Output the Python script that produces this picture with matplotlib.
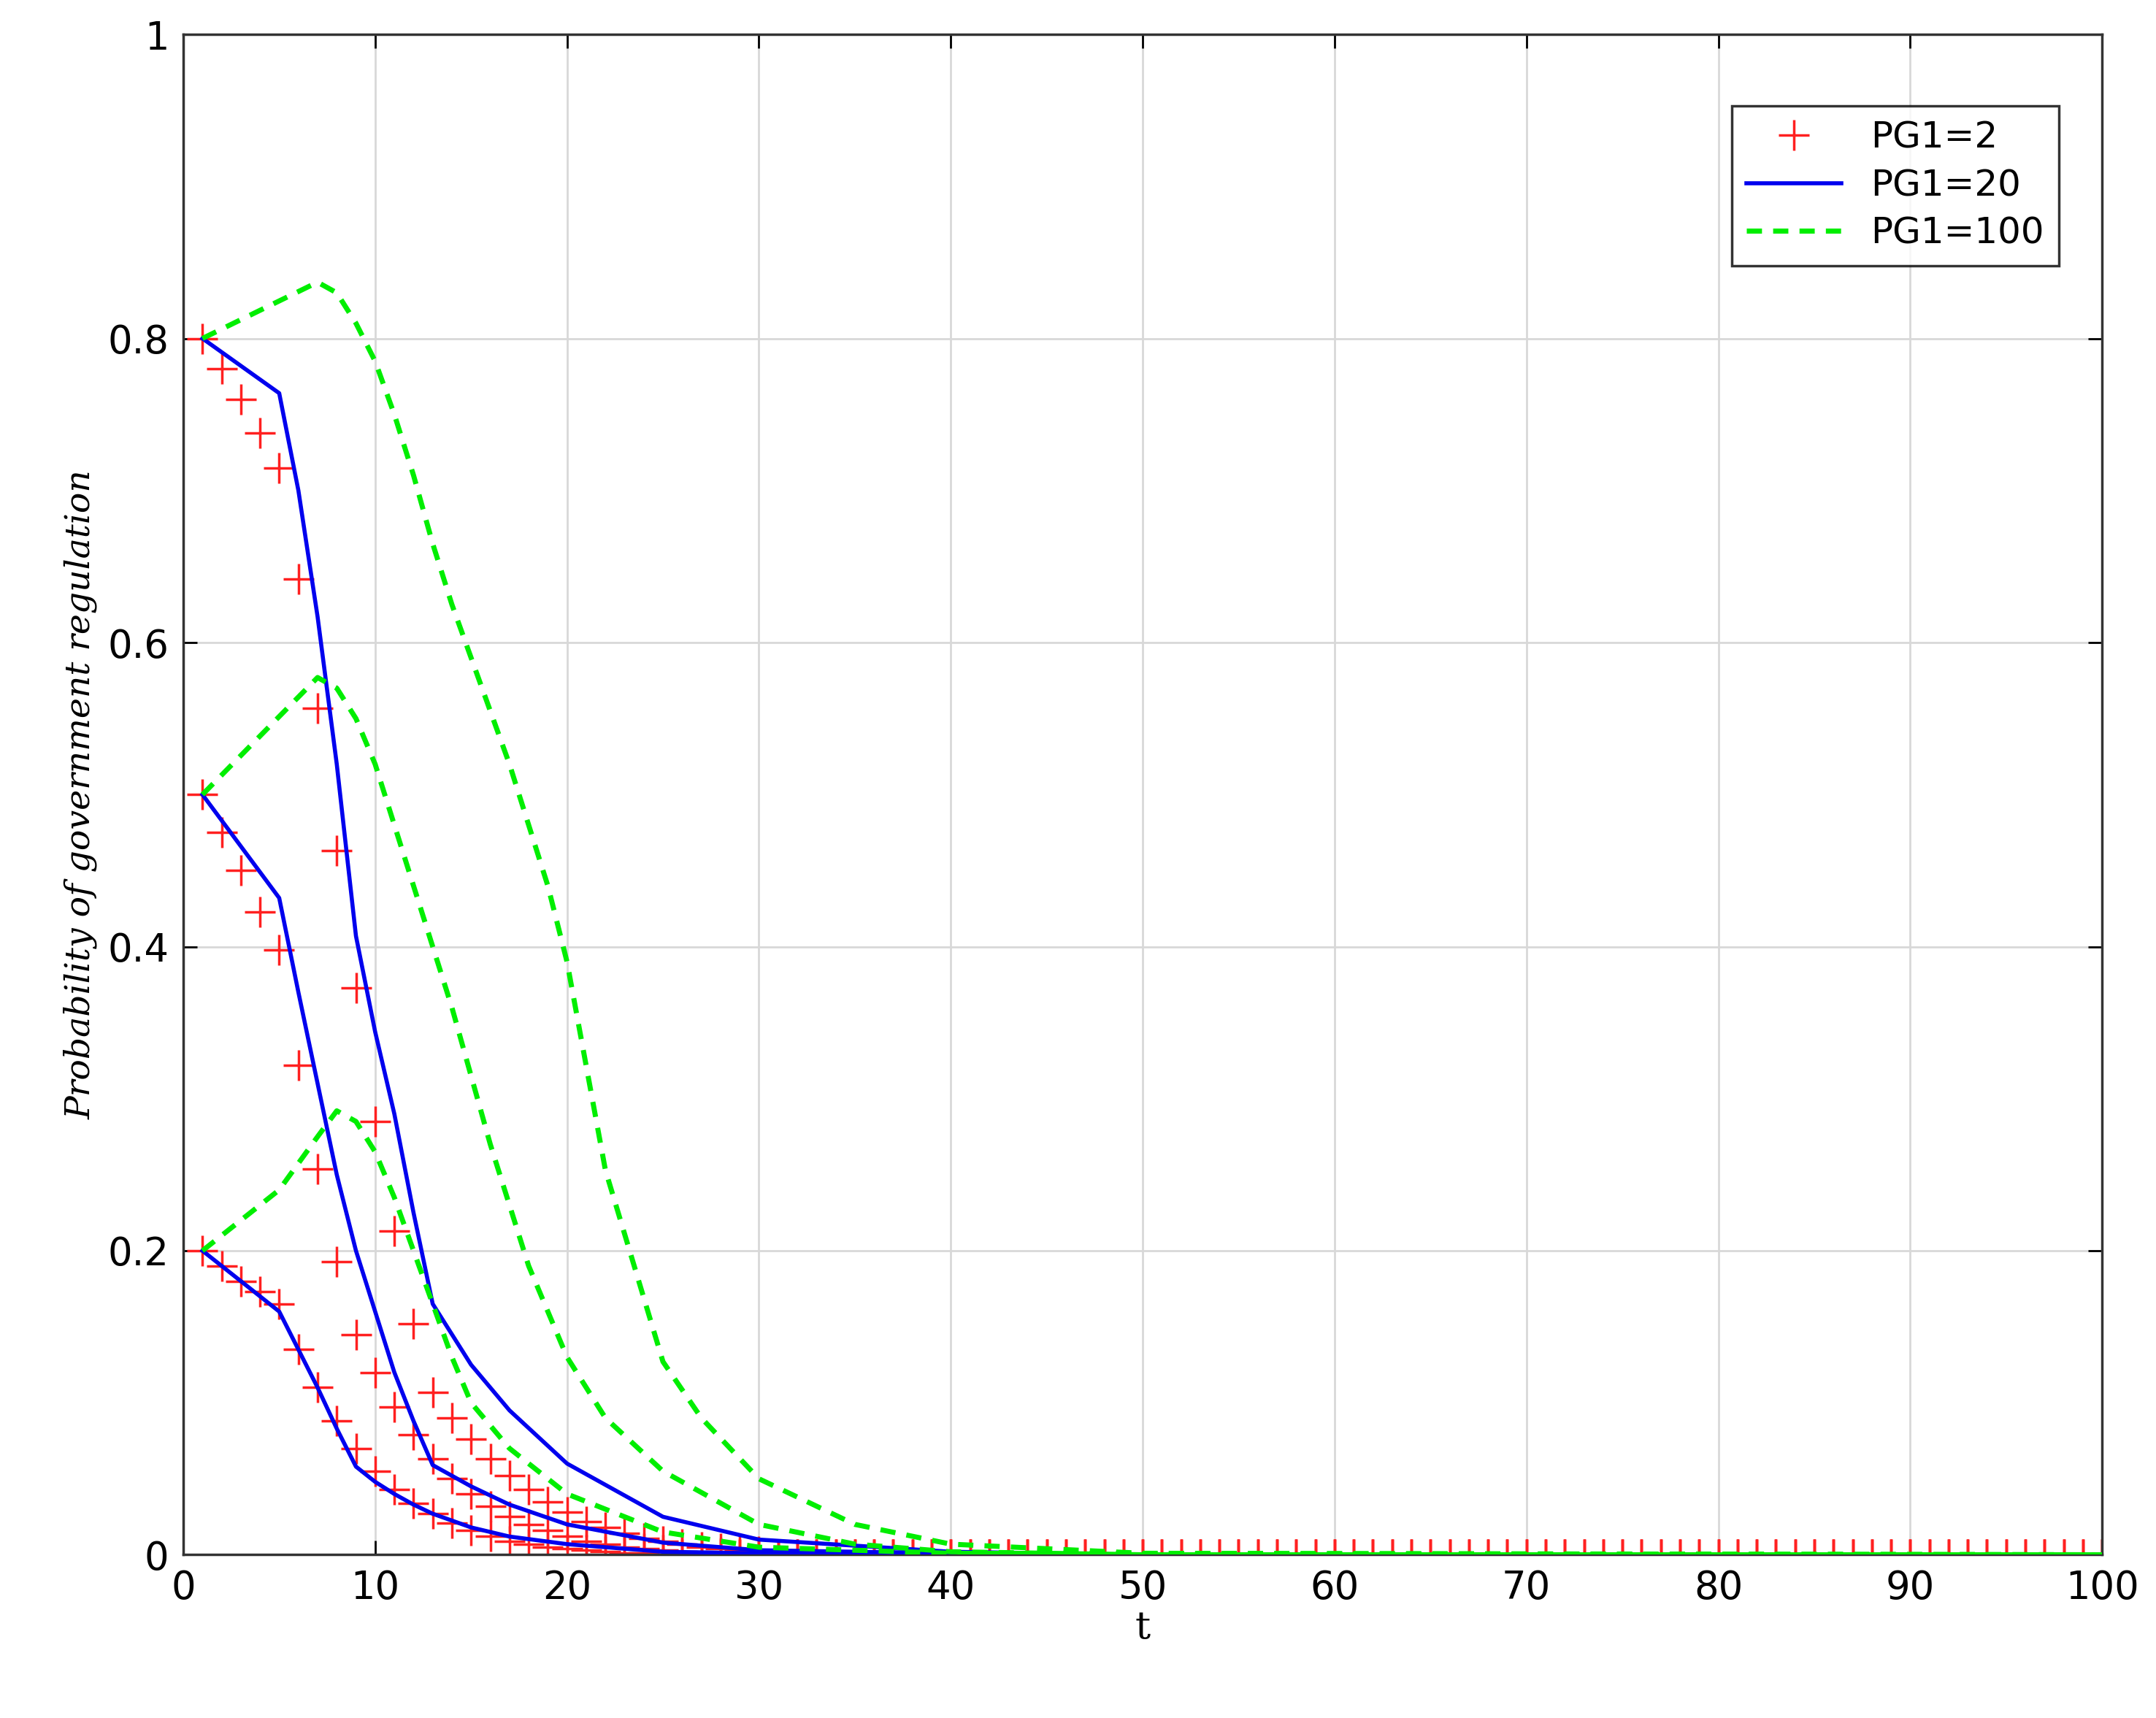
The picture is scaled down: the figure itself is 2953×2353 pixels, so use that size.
import matplotlib
matplotlib.use("Agg")
import matplotlib.pyplot as plt
import numpy as np

t_red = list(range(1, 101))
red_a = [0.8, 0.78, 0.76, 0.738, 0.715, 0.642, 0.557, 0.463, 0.373, 0.285, 0.213, 0.152, 0.107, 0.09, 0.076,
         0.063, 0.052, 0.043, 0.035, 0.028, 0.022, 0.018, 0.014, 0.011, 0.009, 0.007, 0.005, 0.004, 0.003, 0.002] + [0.0] * 70
red_b = [0.5, 0.475, 0.45, 0.423, 0.398, 0.322, 0.254, 0.193, 0.145, 0.12, 0.097, 0.079, 0.063, 0.05, 0.04,
         0.032, 0.025, 0.02, 0.016, 0.012, 0.009, 0.007, 0.005, 0.004, 0.003, 0.002, 0.001, 0.001, 0.0, 0.0] + [0.0] * 70
red_c = [0.2, 0.19, 0.18, 0.173, 0.165, 0.135, 0.11, 0.088, 0.07, 0.055, 0.043, 0.034, 0.027, 0.021, 0.016,
         0.012, 0.009, 0.007, 0.005, 0.004, 0.003, 0.002, 0.001, 0.001, 0.0, 0.0, 0.0, 0.0, 0.0, 0.0] + [0.0] * 70

t_blue = [1, 5, 6, 7, 8, 9, 10, 11, 12, 13, 15, 17, 20, 25, 30, 40, 50, 100]
blue_a = [0.8, 0.764, 0.70, 0.617, 0.52, 0.407, 0.344, 0.29, 0.225, 0.165, 0.125, 0.095, 0.06, 0.025, 0.01, 0.002, 0.0, 0.0]
blue_b = [0.5, 0.432, 0.37, 0.31, 0.25, 0.2, 0.16, 0.12, 0.088, 0.059, 0.045, 0.033, 0.02, 0.008, 0.003, 0.001, 0.0, 0.0]
blue_c = [0.2, 0.16, 0.135, 0.11, 0.083, 0.058, 0.048, 0.04, 0.033, 0.027, 0.018, 0.012, 0.007, 0.002, 0.001, 0.0, 0.0, 0.0]

t_g1 = [1, 7, 8, 9, 10, 11, 12, 13, 14, 15, 16, 17, 18, 19, 20, 22, 25, 27, 30, 35, 40, 50, 100]
green_a = [0.8, 0.837, 0.83, 0.81, 0.785, 0.75, 0.71, 0.665, 0.625, 0.59, 0.555, 0.52, 0.48, 0.44, 0.39, 0.253, 0.127, 0.09, 0.05, 0.02, 0.007, 0.001, 0.0]
t_g2 = [1, 7, 8, 9, 10, 11, 12, 13, 14, 15, 16, 17, 18, 19, 20, 22, 25, 30, 35, 40, 50, 100]
green_b = [0.5, 0.577, 0.57, 0.55, 0.52, 0.48, 0.44, 0.4, 0.36, 0.315, 0.27, 0.23, 0.19, 0.16, 0.13, 0.09, 0.055, 0.02, 0.007, 0.002, 0.0, 0.0]
t_g3 = [1, 5, 7, 8, 9, 10, 11, 12, 13, 14, 15, 17, 20, 25, 30, 40, 100]
green_c = [0.2, 0.24, 0.275, 0.292, 0.285, 0.265, 0.235, 0.2, 0.165, 0.13, 0.1, 0.07, 0.04, 0.015, 0.005, 0.001, 0.0]

fig = plt.figure(figsize=(29.53, 23.53), dpi=100)
ax = fig.add_axes([0.085, 0.095, 0.89, 0.885])

for i, r in enumerate([red_a, red_b, red_c]):
    ax.plot(t_red, r, '+', color='#ff2020', ms=30, mew=2.5, label='PG1=2' if i == 0 else None, zorder=2)
for i, b in enumerate([blue_a, blue_b, blue_c]):
    ax.plot(t_blue, b, '-', color='#0000ee', lw=4, label='PG1=20' if i == 0 else None, zorder=3)
for i, (tg, g) in enumerate([(t_g1, green_a), (t_g2, green_b), (t_g3, green_c)]):
    ax.plot(tg, g, '--', color='#00ee00', lw=5, dashes=(3, 2.2), label='PG1=100' if i == 0 else None, zorder=3)

ax.set_xlim(0, 100)
ax.set_ylim(0, 1)
ax.set_xticks(np.arange(0, 101, 10))
ax.set_yticks([0, 0.2, 0.4, 0.6, 0.8, 1])
ax.set_yticklabels(['0', '0.2', '0.4', '0.6', '0.8', '1'])
ax.grid(True, color='#d8d8d8', lw=2)
ax.tick_params(direction='in', labelsize=38, length=14, width=2, top=True, right=True, pad=14)
for s in ax.spines.values():
    s.set_linewidth(2.5)
    s.set_color('#333333')
ax.set_xlabel('t', fontsize=38, family='DejaVu Serif', labelpad=2)
ax.set_ylabel('Probability of government regulation', fontsize=34, family='DejaVu Serif', style='italic', labelpad=10)
leg = ax.legend(loc='upper right', fontsize=36, frameon=True, fancybox=False, edgecolor='black',
                bbox_to_anchor=(0.987, 0.965), handlelength=2.6, borderpad=0.4, labelspacing=0.35)
leg.get_frame().set_linewidth(2.5)
fig.savefig('out.png', dpi=100, facecolor='white')
